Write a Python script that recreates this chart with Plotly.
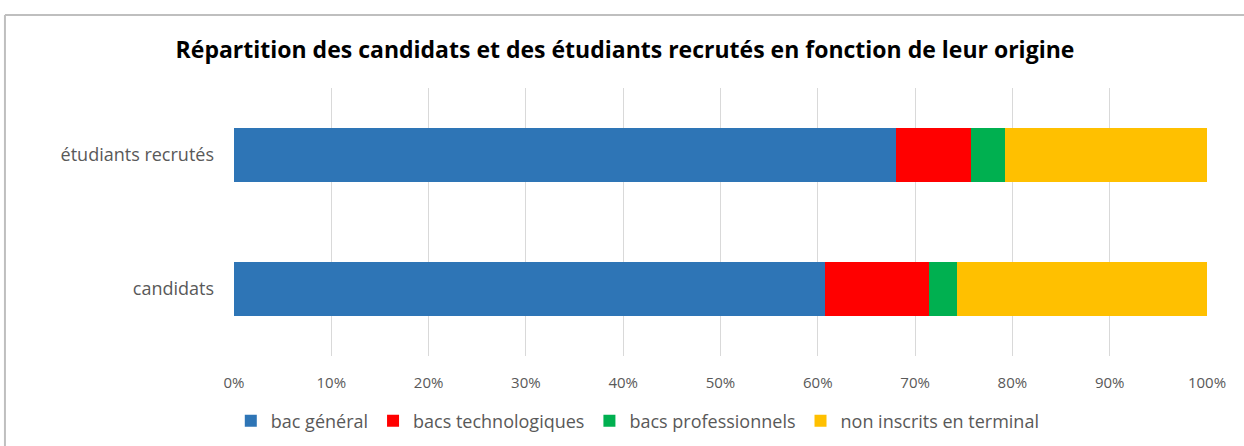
import plotly.graph_objects as go

categories = ["candidats", "étudiants recrutés"]
series_names = ["bac général", "bacs technologiques", "bacs professionnels", "non inscrits en terminal"]
bac_general = [60.7, 68.0]
bacs_techno = [10.7, 7.7]
bacs_pro = [2.9, 3.5]
non_inscrits = [25.7, 20.8]
colors = ["#2E75B6", "#FF0000", "#00B050", "#FFC000"]
x_ticks = [0, 10, 20, 30, 40, 50, 60, 70, 80, 90, 100]
x_tick_labels = [f"{v}%" for v in x_ticks]

fig = go.Figure()
for name, vals, col in zip(series_names, [bac_general, bacs_techno, bacs_pro, non_inscrits], colors):
    fig.add_trace(go.Bar(y=categories, x=vals, name=name, orientation="h",
                         marker=dict(color=col, line=dict(width=0))))

fig.update_layout(
    barmode="stack",
    bargap=0.6,
    width=1244, height=446,
    margin=dict(l=234, r=37, t=88, b=90, autoexpand=False),
    paper_bgcolor="white", plot_bgcolor="white",
    font=dict(family="Open Sans", color="#595959"),
    title=dict(text="<b>Répartition des candidats et des étudiants recrutés en fonction de leur origine</b>",
               x=0.5024, xref="container", xanchor="center", y=0.888, yref="container", yanchor="middle",
               font=dict(family="Open Sans", size=23, color="#000000")),
    xaxis=dict(range=[0, 100], tickvals=x_ticks, ticktext=x_tick_labels, showgrid=True,
               gridcolor="#D9D9D9", gridwidth=1, zeroline=False, showline=False,
               tickfont=dict(size=15, color="#595959"), ticks="", ticklabelstandoff=16,
               fixedrange=True),
    yaxis=dict(showgrid=False, zeroline=False, showline=False, ticks="",
               tickfont=dict(size=18, color="#595959"), ticklabelstandoff=19),
    legend=dict(orientation="h", x=0.415, xanchor="center", y=-0.2425, yanchor="middle",
                font=dict(size=18, color="#595959"), traceorder="normal",
                itemwidth=30),
    showlegend=True,
)
# chart frame (top and left edges)
fig.add_shape(type="line", xref="paper", yref="paper", x0=-0.2354, x1=1.1, y0=1.272, y1=1.272,
              line=dict(color="#BFBFBF", width=2))
fig.add_shape(type="line", xref="paper", yref="paper", x0=-0.2354, x1=-0.2354, y0=1.272, y1=-0.5,
              line=dict(color="#BFBFBF", width=2))

fig.write_html("out.html", config={"displayModeBar": False},
               post_script="document.body.style.margin='0';")
